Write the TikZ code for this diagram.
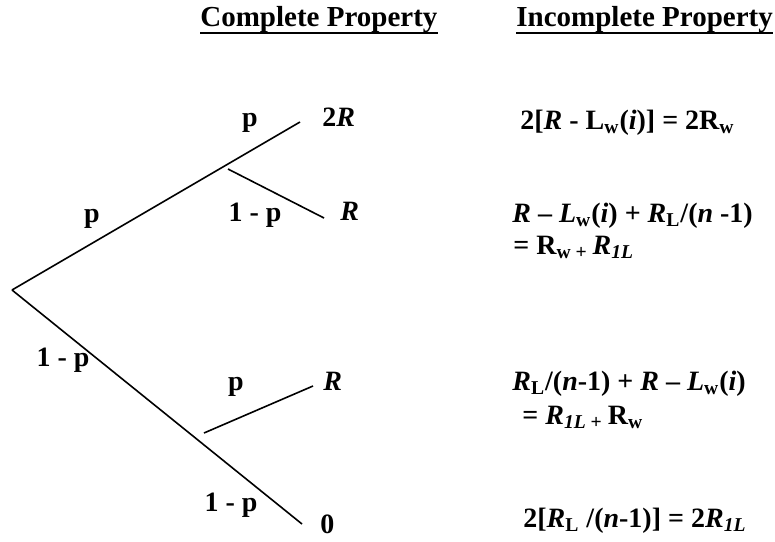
\documentclass[tikz,border=0pt]{standalone}
\usepackage{fontspec}
\setmainfont{Liberation Serif}
\usetikzlibrary{positioning}

\begin{document}
\begin{tikzpicture}[x=0.5pt, y=-0.5pt,
        % Define styles for the tree, its labels and the payoffs
        branch/.style={line width=0.8pt},
        prob/.style={inner sep=0pt, anchor=base, font=\fontsize{14}{16}\selectfont\bfseries},
        outcome/.style={inner sep=0pt, anchor=base west, font=\fontsize{14}{16}\selectfont\bfseries},
        payoff/.style={inner sep=0pt, anchor=base west, font=\fontsize{14}{16}\selectfont\bfseries},
        heading/.style={inner sep=0pt, anchor=base west, font=\fontsize{14.5}{17}\selectfont\bfseries}
    ]
    \useasboundingbox (0,0) rectangle (775,541);

    % --- HEADINGS ---
    \node[heading] (hcomp) at (200,26) {Complete Property};
    \node[heading] (hincomp) at (516,26) {Incomplete Property};
    \draw[line width=1.3pt] ([yshift=-3.5pt]hcomp.base west) -- ([yshift=-3.5pt]hcomp.base east);
    \draw[line width=1.3pt] ([yshift=-3.5pt]hincomp.base west) -- ([yshift=-3.5pt]hincomp.base east);

    % --- TREE ---
    \coordinate (root) at (12,290);
    \coordinate (up) at (300,122);
    \coordinate (upfork) at (228,169);
    \coordinate (upr) at (324,218);
    \coordinate (low) at (302,524);
    \coordinate (lowfork) at (204,433);
    \coordinate (lowr) at (313,386);

    \draw[branch] (root) -- (up);
    \draw[branch] (upfork) -- (upr);
    \draw[branch] (root) -- (low);
    \draw[branch] (lowfork) -- (lowr);

    % Probabilities
    \node[prob] (pa) at (92,222) {p};
    \node[prob] (pb) at (250,126) {p};
    \node[prob] (qb) at (255,221) {1 - p};
    \node[prob] (qa) at (63,366) {1 - p};
    \node[prob] (pc) at (236,390) {p};
    \node[prob] (qc) at (231,511) {1 - p};

    % Outcomes of the complete property
    \node[outcome] (o2r) at (322,126) {2\textit{R}};
    \node[outcome] (or1) at (340,220) {\textit{R}};
    \node[outcome] (or2) at (323,390) {\textit{R}};
    \node[outcome] (o0) at (320,533) {0};

    % --- PAYOFFS OF THE INCOMPLETE PROPERTY ---
    \node[payoff] (ea) at (520,129) {2[\textit{R} - L\textsubscript{w}(\textit{i})] = 2R\textsubscript{w}};
    \node[payoff] (eb) at (512,222) {\textit{R} – \textit{L}\textsubscript{w}(\textit{i}) + \textit{R}\textsubscript{L}/(\textit{n} -1)};
    \node[payoff] (ebb) at (513,254) {= R\textsubscript{w + }\textit{R}\textsubscript{\textit{1L}}};
    \node[payoff] (ec) at (512,390) {\textit{R}\textsubscript{L}/(\textit{n}-1) + \textit{R} – \textit{L}\textsubscript{w}(\textit{i})};
    \node[payoff] (ecc) at (522,424) {= \textit{R}\textsubscript{\textit{1L} + }R\textsubscript{w}};
    \node[payoff] (ed) at (523,527) {2[\textit{R}\textsubscript{L} /(\textit{n}-1)] = 2\textit{R}\textsubscript{\textit{1L}}};

\end{tikzpicture}
\end{document}
